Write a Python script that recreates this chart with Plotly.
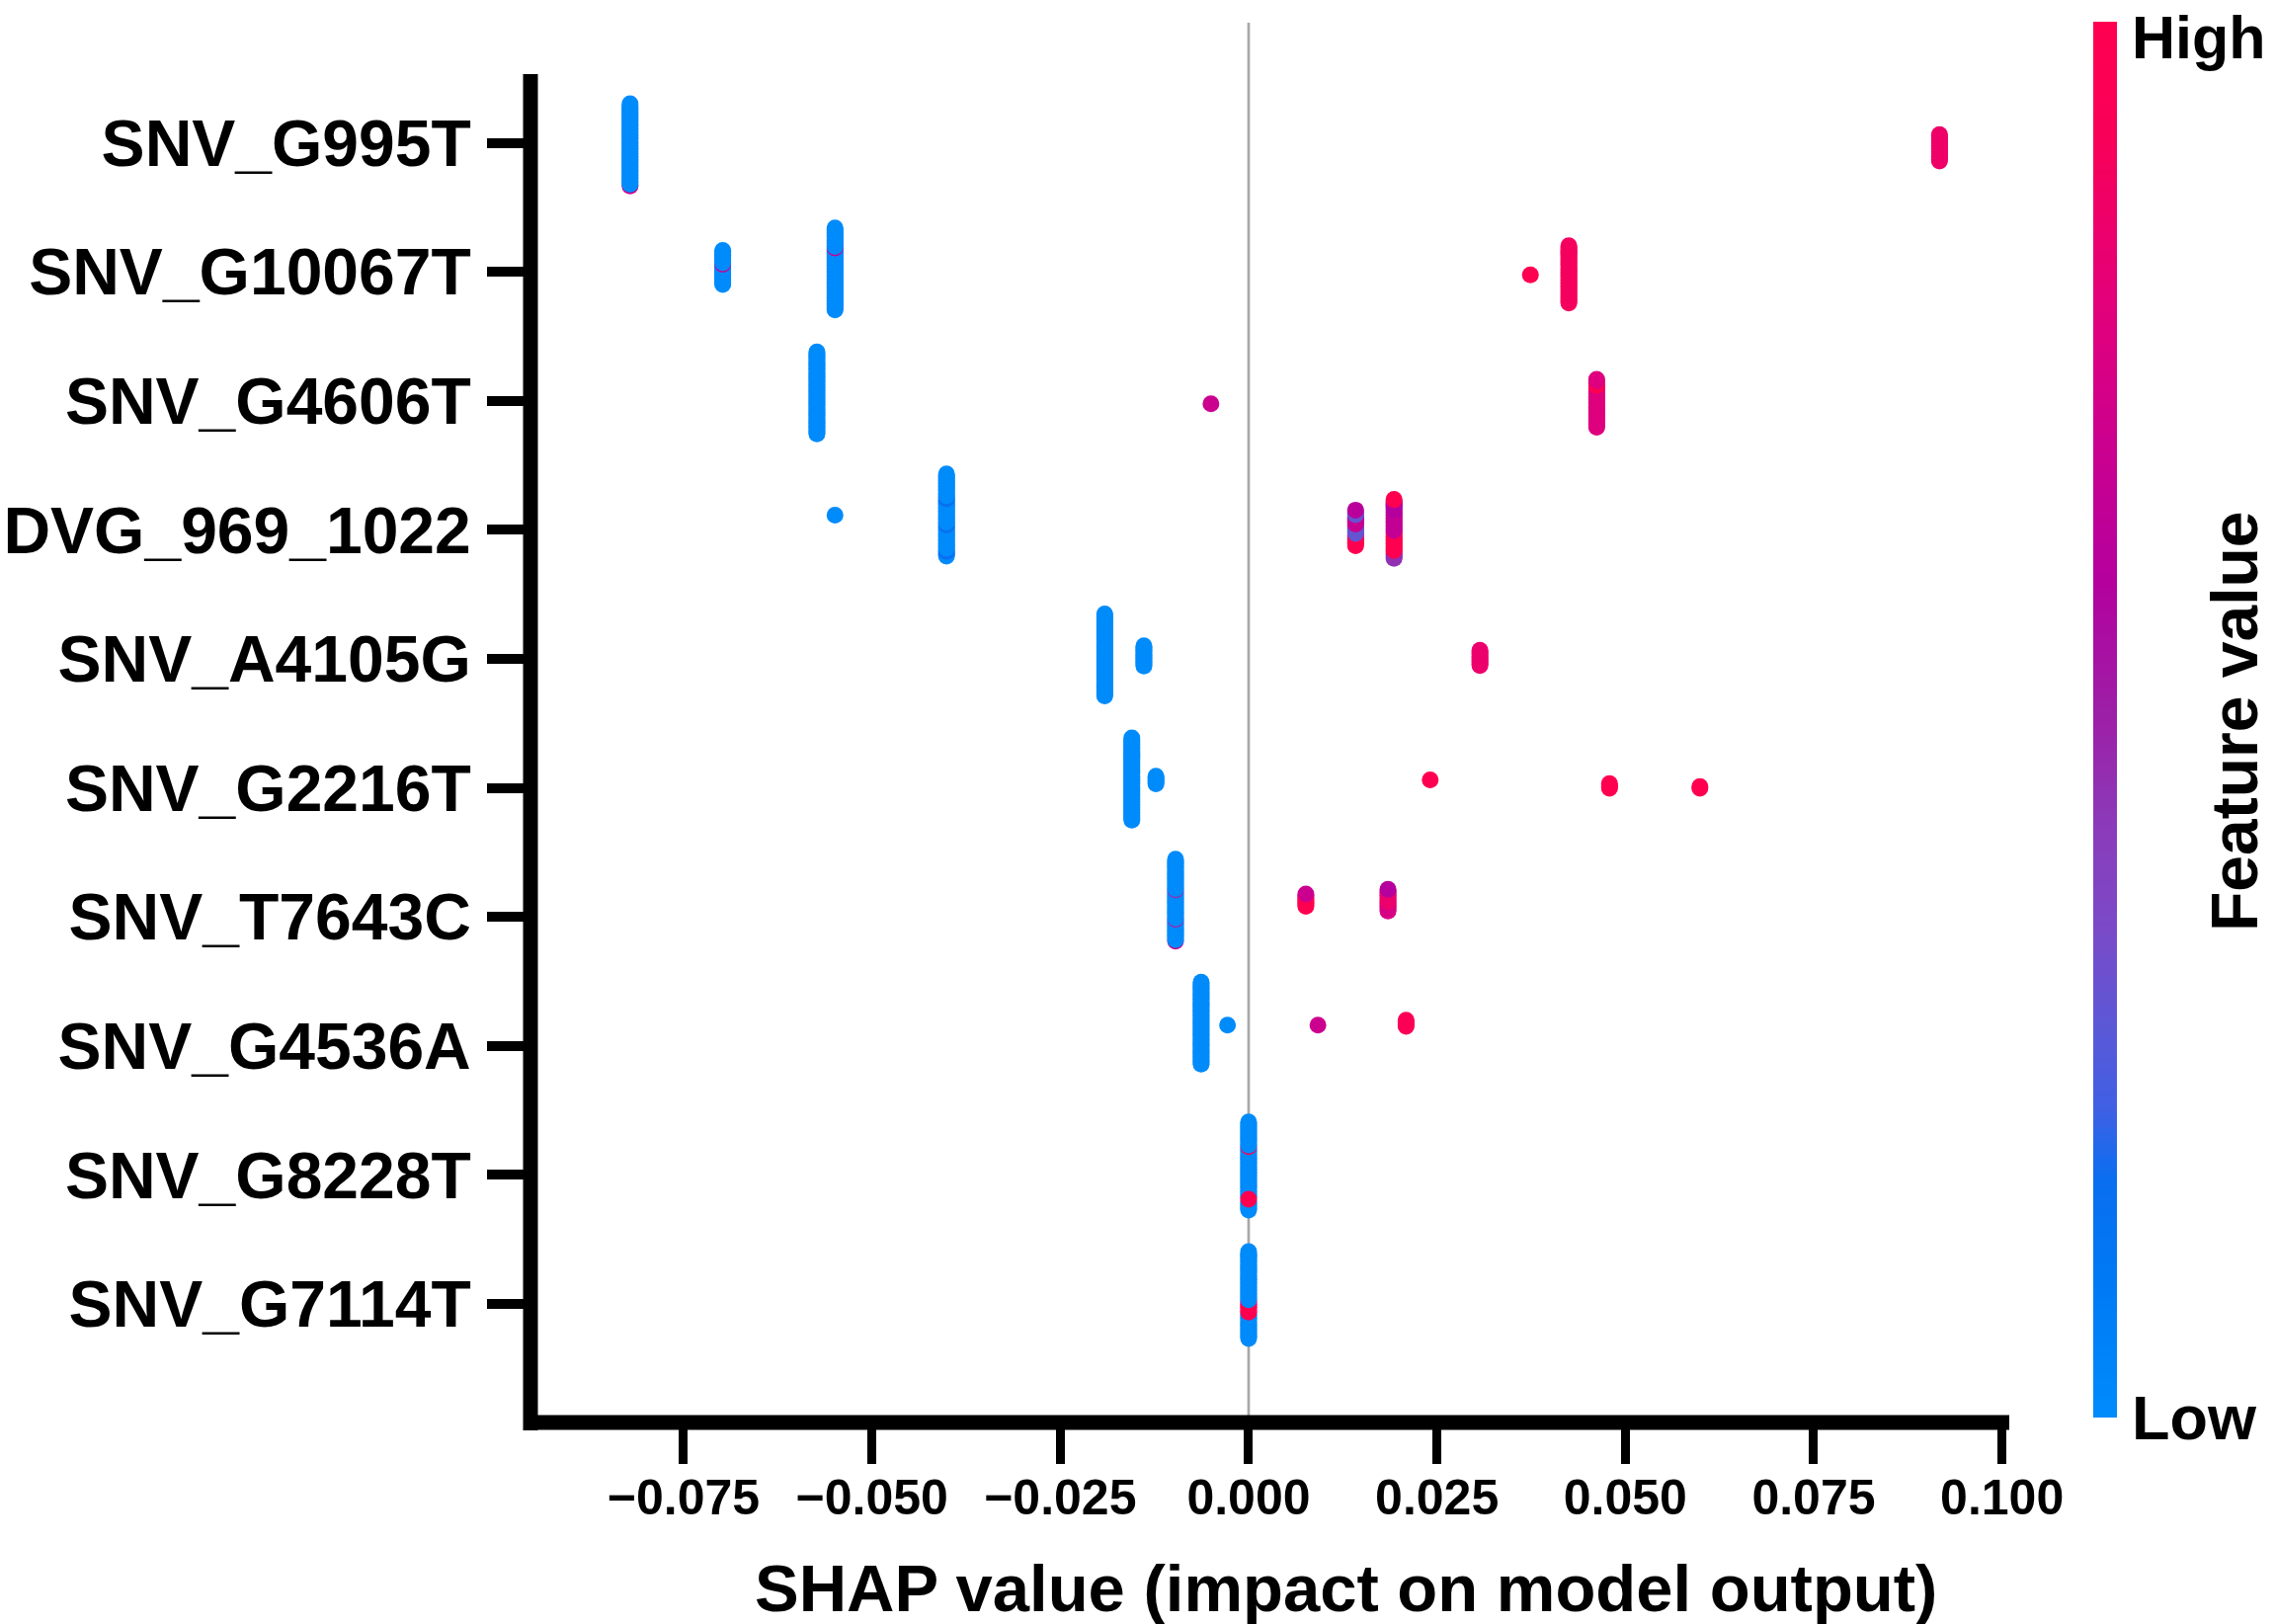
import plotly.graph_objects as go

# ---------------- data ----------------
features = ["SNV_G995T", "SNV_G10067T", "SNV_G4606T", "DVG_969_1022", "SNV_A4105G",
            "SNV_G2216T", "SNV_T7643C", "SNV_G4536A", "SNV_G8228T", "SNV_G7114T"]

x_tick_vals = [-0.075, -0.05, -0.025, 0.0, 0.025, 0.05, 0.075, 0.1]
x_tick_text = ["\u22120.075", "\u22120.050", "\u22120.025", "0.000", "0.025", "0.050", "0.075", "0.100"]

# each stack = samples sharing (almost) the same SHAP value for one feature
stack_feature = [0, 0,
                 1, 1, 1, 1,
                 2, 2, 2,
                 3, 3, 3, 3,
                 4, 4, 4,
                 5, 5, 5, 5, 5,
                 6, 6, 6,
                 7, 7, 7, 7,
                 8,
                 9]
stack_shap = [-0.0821, 0.0917,
              -0.0698, -0.0549, 0.0374, 0.0425,
              -0.0573, -0.0050, 0.0462,
              -0.0549, -0.0401, 0.0142, 0.0193,
              -0.0191, -0.0139, 0.0307,
              -0.0155, -0.0123, 0.0241, 0.0479, 0.0599,
              -0.0097, 0.0076, 0.0185,
              -0.0063, -0.0028, 0.0092, 0.0209,
              0.0,
              0.0]
# sample counts per group inside a stack (top -> bottom)
stack_counts = [[53, 1], [18],
                [9, 1, 13], [13, 1, 40], [1], [38],
                [54], [1], [2, 3, 27],
                [1], [15, 2, 15, 2, 15, 2, 3], [1, 3, 6, 6, 8], [1, 7, 13, 13, 5],
                [54], [14], [11],
                [54], [6], [1], [4], [2],
                [20, 1, 18, 1, 13, 1], [1, 8], [1, 8, 6],
                [54], [1], [1], [5],
                [16, 1, 33, 1, 7],
                [32, 8, 17]]
# normalised feature value of each group (0 = low, 1 = high)
stack_fvals = [[0.0, 0.72], [0.86],
               [0.0, 0.7, 0.0], [0.0, 0.7, 0.0], [1.0], [0.9],
               [0.0], [0.7], [0.78, 1.0, 0.78],
               [0.0], [0.0, 0.16, 0.0, 0.16, 0.0, 0.16, 0.0], [0.62, 0.3, 0.68, 0.3, 1.0],
               [1.0, 0.6, 0.66, 1.0, 0.45],
               [0.0], [0.0], [0.85],
               [0.0], [0.0], [1.0], [1.0], [1.0],
               [0.0, 0.45, 0.0, 0.45, 0.0, 0.7], [0.7, 1.0], [0.6, 0.85, 0.75],
               [0.0], [0.0], [0.7], [0.95],
               [0.0, 1.0, 0.0, 1.0, 0.0],
               [0.0, 1.0, 0.0]]

# ---------------- layout helpers (pixel geometry) ----------------
W, H = 2303, 1644
PL, PR, PT, PB = 537, 2031, 23, 1440           # plot area in pixels
CB_L, CB_R, CB_T, CB_B = 2119, 2143, 22, 1435  # colour bar in pixels
ROW_PX = 130.6
Y_ROW0_PX = 1320.0                             # pixel row of bottom feature
XR = [-0.09532, 0.10057]
YR = [(Y_ROW0_PX - PB) / ROW_PX, (Y_ROW0_PX - PT) / ROW_PX]


def pxx(p):
    return p / W


def pxy(p):
    return 1 - p / H


# beeswarm layout: vertical shift of each stack (pixels) and sample spacing
stack_shift_px = [2, 5,
                  -4.5, -3, 3, 2.5,
                  -8, 3, 2.5,
                  -15, -15, -2, -1,
                  -4, -3, -1,
                  -9, -8, -8, -2, -0.5,
                  -17, -17, -17,
                  -23, -21, -21, -23,
                  -9,
                  -9]
# groups drawn on top of everything (visible whole)
front_groups = {(28, 3)}
STEP = 0.012

nfeat = len(features)
xs, ys, cs = [], [], []
fx, fy, fc = [], [], []
for si in range(len(stack_shap)):
    row = stack_feature[si]
    yc = (nfeat - 1 - row) - stack_shift_px[si] / ROW_PX
    pts = []
    for gi, (cnt, fv) in enumerate(zip(stack_counts[si], stack_fvals[si])):
        for _ in range(cnt):
            pts.append((fv, (si, gi) in front_groups))
    n = len(pts)
    # draw from bottom to top
    for k in range(n - 1, -1, -1):
        fv, front = pts[k]
        y = yc + ((n - 1) / 2 - k) * STEP
        if front:
            fx.append(stack_shap[si]); fy.append(y); fc.append(fv)
        else:
            xs.append(stack_shap[si]); ys.append(y); cs.append(fv)
xs += fx; ys += fy; cs += fc

colorscale = [[0.0, "#008bfb"], [0.1, "#0079f4"], [0.17, "#0a6ef0"], [0.22, "#4060e4"],
              [0.28, "#5c58d6"], [0.35, "#7a4ac8"], [0.42, "#8a3cba"], [0.5, "#9c20a8"],
              [0.6, "#b5009e"], [0.7, "#cc008e"], [0.8, "#e3007a"], [0.92, "#f80058"],
              [1.0, "#ff0051"]]

FONT = "Arial, Liberation Sans, sans-serif"

fig = go.Figure()
fig.add_trace(go.Scatter(
    x=xs, y=ys, mode="markers", hoverinfo="skip",
    marker=dict(size=17, color=cs, colorscale=colorscale, cmin=0, cmax=1,
                line=dict(width=0), opacity=1, showscale=False),
    showlegend=False))

# colour bar drawn as a thin heatmap on its own axes
NCB = 256
fig.add_trace(go.Heatmap(
    z=[[i / (NCB - 1)] for i in range(NCB)], x=[0], y=[i + 0.5 for i in range(NCB)],
    colorscale=colorscale, zmin=0, zmax=1, showscale=False, hoverinfo="skip",
    xaxis="x2", yaxis="y2"))

fig.update_layout(
    width=W, height=H, autosize=False,
    margin=dict(l=0, r=0, t=0, b=0, pad=0),
    paper_bgcolor="white", plot_bgcolor="white",
    font=dict(family=FONT, color="black"),
    xaxis=dict(domain=[PL / W, PR / W], range=XR, tickvals=x_tick_vals, ticktext=x_tick_text,
               ticks="outside", ticklen=41, tickwidth=9, tickcolor="black",
               showgrid=False, zeroline=False, showline=False, automargin=False,
               tickfont=dict(family=FONT, size=50, color="black", weight="bold"),
               ticklabelstandoff=-9),
    yaxis=dict(domain=[1 - PB / H, 1 - PT / H], range=YR,
               tickvals=list(range(nfeat - 1, -1, -1)), ticktext=features,
               ticks="outside", ticklen=43, tickwidth=10, tickcolor="black",
               showgrid=False, zeroline=False, showline=False, automargin=False,
               tickfont=dict(family=FONT, size=66, color="black", weight="bold"),
               ticklabelstandoff=3),
    xaxis2=dict(domain=[CB_L / W, CB_R / W], range=[-0.5, 0.5], visible=False,
                fixedrange=True, anchor="y2"),
    yaxis2=dict(domain=[1 - CB_B / H, 1 - CB_T / H], range=[0, NCB], visible=False,
                fixedrange=True, anchor="x2"),
    shapes=[
        dict(type="line", xref="x", yref="paper", x0=0, x1=0, y0=pxy(PB), y1=pxy(PT),
             line=dict(color="#a8a8a8", width=2.7), layer="below"),
        dict(type="line", xref="paper", yref="paper", x0=pxx(537), x1=pxx(537),
             y0=pxy(75), y1=pxy(1448), line=dict(color="black", width=15)),
        dict(type="line", xref="paper", yref="paper", x0=pxx(530), x1=pxx(2034),
             y0=pxy(1440), y1=pxy(1440), line=dict(color="black", width=15)),
    ],
    annotations=[
        dict(text="SHAP value (impact on model output)", xref="paper", yref="paper",
             x=pxx(1362), y=pxy(1607), xanchor="center", yanchor="middle", showarrow=False,
             font=dict(family=FONT, size=67, color="black", weight="bold")),
        dict(text="High", xref="paper", yref="paper", x=pxx(2156), y=pxy(38),
             xanchor="left", yanchor="middle", showarrow=False,
             font=dict(family=FONT, size=61, color="black", weight="bold")),
        dict(text="Low", xref="paper", yref="paper", x=pxx(2156), y=pxy(1435),
             xanchor="left", yanchor="middle", showarrow=False,
             font=dict(family=FONT, size=63, color="black", weight="bold")),
        dict(text="Feature value", xref="paper", yref="paper", x=pxx(2262), y=pxy(730),
             xanchor="center", yanchor="middle", textangle=-90, showarrow=False,
             font=dict(family=FONT, size=66, color="black", weight="bold")),
    ],
)

fig.write_html("out.html", config={"displayModeBar": False},
               post_script="document.body.style.margin='0';document.body.style.overflow='hidden';")
